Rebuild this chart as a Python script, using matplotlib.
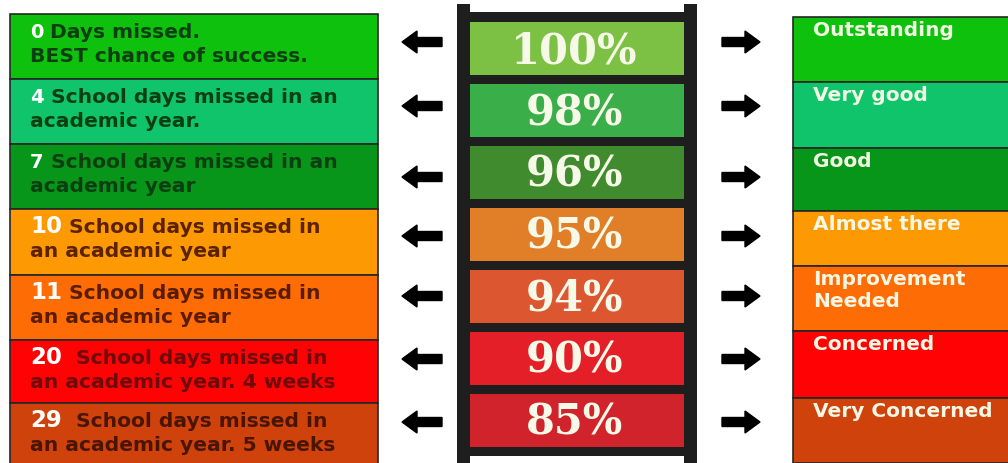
import numpy as np
import matplotlib.pyplot as plt
from matplotlib.patches import Rectangle

# attendance ladder data
days = ['0', '4', '7', '10', '11', '20', '29']
line1 = [' Days missed.', ' School days missed in an', ' School days missed in an',
         ' School days missed in', ' School days missed in',
         '  School days missed in', '  School days missed in']
line2 = ['BEST chance of success.', 'academic year.', 'academic year',
         'an academic year', 'an academic year',
         'an academic year. 4 weeks', 'an academic year. 5 weeks']
percents = ['100%', '98%', '96%', '95%', '94%', '90%', '85%']
ratings = ['Outstanding', 'Very good', 'Good', 'Almost there',
           'Improvement\nNeeded', 'Concerned', 'Very Concerned']

band_colors = ['#0dc10d', '#10c46c', '#07961a', '#fd9a03', '#fd6c05', '#fe0204', '#cf420c']
dark_text = ['#0c3f10', '#0c3f10', '#0c3f10', '#5a2200', '#5a1c00', '#700a0a', '#4a1500']
ladder_colors = ['#7cc144', '#3aae48', '#3f8b2e', '#e07f28', '#dc5630', '#e41f27', '#d0232b']

W, H = 1008, 464
fig = plt.figure(figsize=(W / 100, H / 100), dpi=100)
ax = fig.add_axes([0, 0, 1, 1])
ax.set_xlim(0, W)
ax.set_ylim(H, 0)
ax.axis('off')

# ---- left boxes
left_tops = [15, 80, 145, 210, 276, 341, 404]
left_h = [65, 65, 65, 66, 65, 63, 64]
renderer = fig.canvas.get_renderer()
for i in range(len(days)):
    ax.add_patch(Rectangle((10, left_tops[i]), 368, left_h[i], fc=band_colors[i],
                           ec='#262626', lw=1.2))
    fs_num = 14 if len(days[i]) == 1 else 16.5
    t = ax.text(30, left_tops[i] + 23, days[i], color='white', fontsize=fs_num,
                fontweight='bold', va='baseline', ha='left')
    bb = t.get_window_extent(renderer=renderer)
    ax.text(bb.x1, left_tops[i] + 23, line1[i], color=dark_text[i], fontsize=14.6,
            fontweight='bold', va='baseline', ha='left')
    ax.text(30, left_tops[i] + 47, line2[i], color=dark_text[i], fontsize=14.6,
            fontweight='bold', va='baseline', ha='left')

# ---- ladder
dark = '#1e1e1e'
ax.add_patch(Rectangle((457, 5), 13, H, fc=dark, ec='none'))
ax.add_patch(Rectangle((684, 5), 13, H, fc=dark, ec='none'))
ax.add_patch(Rectangle((457, 13), 240, H, fc=dark, ec='none'))
rung_tops = [23 + 62 * i for i in range(8)]
for i, r in enumerate(rung_tops):
    c = ladder_colors[i] if i < len(ladder_colors) else 'white'
    ax.add_patch(Rectangle((470, r), 214, 53, fc=c, ec='none'))
    if i < len(percents):
        ax.text(574, r + 28, percents[i], color='#f6f9e8', fontsize=30,
                fontweight='bold', family='DejaVu Serif', ha='center', va='center')

# ---- arrows
arrow_y = [43, 107, 178, 237, 297, 360, 423]
for y in arrow_y:
    ax.arrow(442, y, -40, 0, width=9, head_width=22, head_length=15,
             length_includes_head=True, fc='black', ec='black')
    ax.arrow(722, y, 38, 0, width=9, head_width=22, head_length=15,
             length_includes_head=True, fc='black', ec='black')

# ---- right boxes
right_tops = [18, 83, 149, 212, 267, 332, 399, 464]
for i in range(len(ratings)):
    ax.add_patch(Rectangle((793, right_tops[i]), 230, right_tops[i + 1] - right_tops[i],
                           fc=band_colors[i], ec='#262626', lw=1.2))
    for k, ln in enumerate(ratings[i].split('\n')):
        ax.text(813, right_tops[i] + 18 + 22 * k, ln, color='#f4f7e4', fontsize=14.5,
                fontweight='bold', va='baseline', ha='left')

fig.savefig('out.png', dpi=100)
